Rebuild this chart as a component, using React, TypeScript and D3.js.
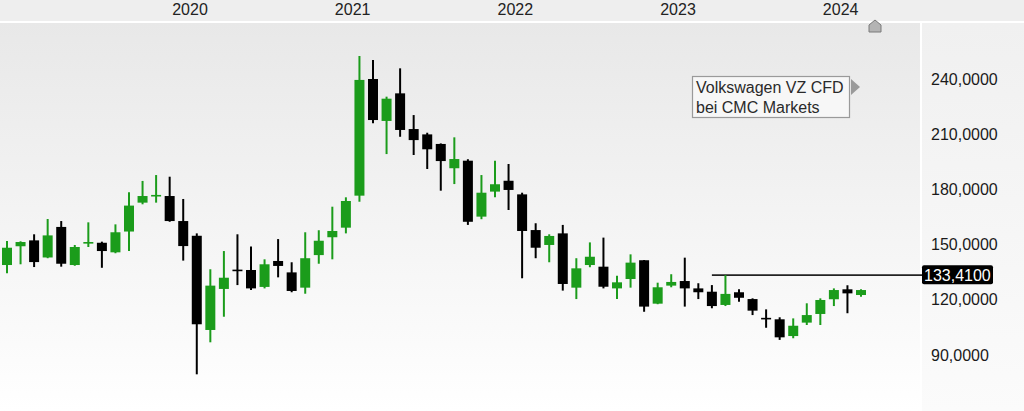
import React from "react";
import * as d3 from "d3";

const months = [
  "2019-01","2019-02","2019-03","2019-04","2019-05","2019-06","2019-07","2019-08","2019-09","2019-10","2019-11","2019-12",
  "2020-01","2020-02","2020-03","2020-04","2020-05","2020-06","2020-07","2020-08","2020-09","2020-10","2020-11","2020-12",
  "2021-01","2021-02","2021-03","2021-04","2021-05","2021-06","2021-07","2021-08","2021-09","2021-10","2021-11","2021-12",
  "2022-01","2022-02","2022-03","2022-04","2022-05","2022-06","2022-07","2022-08","2022-09","2022-10","2022-11","2022-12",
  "2023-01","2023-02","2023-03","2023-04","2023-05","2023-06","2023-07","2023-08","2023-09","2023-10","2023-11","2023-12",
  "2024-01","2024-02","2024-03","2024-04",
];
const openV = [
  138.9,149.1,152.3,143.0,159.6,138.9,150.6,151.0,145.8,157.1,172.8,176.4,
  176.4,162.8,154.8,103.6,125.9,136.4,136.2,127.0,141.1,134.9,126.6,144.3,
  154.0,159.2,176.6,240.0,217.2,232.2,212.8,209.9,204.7,191.5,195.6,165.2,
  178.8,184.7,177.3,157.9,149.8,156.1,126.6,138.9,138.0,126.2,131.3,141.5,
  117.9,127.7,130.2,126.2,124.4,117.2,124.1,120.4,110.2,109.4,100.3,107.6,
  112.3,120.3,125.7,122.6,
];
const highV = [
  152.0,151.8,155.6,163.9,162.8,149.8,162.1,151.6,161.0,178.4,184.6,187.8,
  186.9,174.8,156.1,136.6,146.5,155.6,148.9,142.0,153.0,140.4,156.7,157.8,
  170.6,175.7,252.5,250.3,230.4,245.8,220.4,210.8,205.0,208.3,196.4,187.8,
  195.6,193.8,178.2,161.6,155.6,160.7,142.6,151.2,153.8,133.1,144.7,141.6,
  129.3,133.9,142.9,129.0,128.0,133.4,125.7,120.8,114.8,110.5,109.9,118.1,
  120.8,126.2,127.9,125.7,
];
const lowV = [
  134.4,139.3,137.8,142.6,138.0,138.5,148.7,137.4,145.3,146.5,171.9,172.8,
  162.4,141.3,79.5,96.9,110.8,128.0,125.3,126.2,132.2,124.1,123.3,139.6,
  142.0,156.1,173.3,215.9,199.2,208.6,198.7,191.1,179.3,182.9,160.7,163.8,
  175.7,168.8,131.7,142.6,140.4,125.0,120.4,137.7,126.2,120.4,126.6,113.5,
  117.6,126.8,116.3,120.4,115.4,116.6,119.0,111.7,104.8,98.2,99.1,106.3,
  106.3,116.6,112.7,121.7,
];
const closeV = [
  148.3,151.4,140.5,155.0,139.6,148.7,151.4,146.5,156.7,171.2,176.4,177.0,
  162.8,149.2,106.7,127.7,132.0,136.0,126.2,139.3,138.4,124.8,142.6,152.1,
  157.4,173.7,239.5,217.7,229.3,212.3,206.8,201.8,195.4,196.5,162.4,178.2,
  182.8,179.7,157.4,148.3,154.7,128.6,137.1,143.4,127.1,129.5,140.2,116.3,
  126.8,129.7,126.2,124.1,116.6,123.2,121.1,114.1,109.7,99.6,105.9,111.7,
  119.9,125.3,123.5,125.3,
];
const yTicks = [90, 120, 150, 180, 210, 240];
const yearLabels = ["2020", "2021", "2022", "2023", "2024"];
const refLevel = 133.41;
const refStart = "2023-05";
const titleLines = ["Volkswagen VZ CFD", "bei CMC Markets"];

const W = 1024;
const H = 411;
const plotRight = 920;
const plotTop = 22;
const GREEN = "#1b9c1b";
const FONT = "'Liberation Sans', Arial, sans-serif";

const locale = d3.formatLocale({ decimal: ",", thousands: ".", grouping: [3], currency: ["", "€"] });
const fmt = locale.format(".4f");

export default function App() {
  const x = d3.scaleLinear().domain([0, months.length - 1]).range([7, 861]);
  const y = d3.scaleLinear().domain([90, 240]).range([355, 79]);
  const step = x(1) - x(0);
  const bodyW = 10;

  const candles = months.map((m, i) => ({
    m,
    i,
    o: openV[i],
    h: highV[i],
    l: lowV[i],
    c: closeV[i],
  }));

  const refX0 = x(months.indexOf(refStart));
  const refY = y(refLevel);

  return (
    <svg
      width={W}
      height={H}
      style={{ position: "absolute", left: 0, top: 0, display: "block" }}
      fontFamily={FONT}
    >
      <defs>
        <linearGradient id="bgPlot" x1="0" y1="0" x2="0" y2="1">
          <stop offset="0" stopColor="#e8e8e8" />
          <stop offset="1" stopColor="#ffffff" />
        </linearGradient>
        <linearGradient id="bgAxis" x1="0" y1="0" x2="0" y2="1">
          <stop offset="0" stopColor="#f0f0f0" />
          <stop offset="1" stopColor="#fbfbfb" />
        </linearGradient>
      </defs>
      <rect x={0} y={0} width={W} height={H} fill="#ffffff" />
      <rect x={0} y={0} width={W} height={21} fill="#eeeeee" />
      <rect x={0} y={plotTop + 1} width={plotRight} height={H - plotTop - 1} fill="url(#bgPlot)" />
      <rect x={plotRight + 2} y={plotTop + 1} width={W - plotRight - 2} height={H - plotTop - 1} fill="url(#bgAxis)" />

      {yearLabels.map((yl) => {
        const idx = months.indexOf(yl + "-01");
        return (
          <text
            key={yl}
            x={x(idx + 1.5)}
            y={15}
            textAnchor="middle"
            fontSize={16}
            fill="#222"
          >
            {yl}
          </text>
        );
      })}

      {/* marker at top */}
      <path
        d={`M869,32 L869,25 L875,20 L881,25 L881,32 Z`}
        fill="#b4b4b4"
        stroke="#7a7a7a"
        strokeWidth={1}
      />

      {yTicks.map((t) => (
        <text key={t} x={931} y={y(t) + 5.5} fontSize={16} fill="#1a1a1a">
          {fmt(t)}
        </text>
      ))}

      {/* reference line */}
      <line x1={refX0} x2={plotRight + 3} y1={refY} y2={refY} stroke="#222" strokeWidth={1.6} />
      <rect x={922} y={refY - 10} width={71} height={19} rx={2} fill="#000" />
      <text x={924} y={refY + 5.5} fontSize={16} fill="#fff">
        {fmt(refLevel)}
      </text>

      {candles.map((d) => {
        const up = d.c >= d.o;
        const col = up ? GREEN : "#000";
        const cx = x(d.i);
        const top = y(Math.max(d.o, d.c));
        const bot = y(Math.min(d.o, d.c));
        const bh = Math.max(bot - top, 1.6);
        return (
          <g key={d.m}>
            <line x1={cx} x2={cx} y1={y(d.h)} y2={y(d.l)} stroke={col} strokeWidth={2} />
            <rect x={cx - bodyW / 2} y={top} width={bodyW} height={bh} fill={col} />
          </g>
        );
      })}

      {/* title box */}
      <rect x={692.5} y={76.5} width={157} height={41} fill="#f7f7f7" stroke="#9a9a9a" strokeWidth={1.2} />
      <path d="M851,79 L860,87 L851,95 Z" fill="#9a9a9a" />
      {titleLines.map((t, k) => (
        <text key={t} x={696} y={93 + k * 20} fontSize={16} fill="#2a2a2a">
          {t}
        </text>
      ))}
    </svg>
  );
}
